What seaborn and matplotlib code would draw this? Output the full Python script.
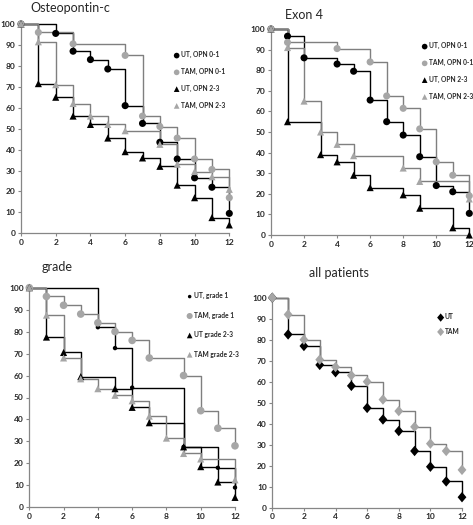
import matplotlib
matplotlib.use("Agg")
import matplotlib.pyplot as plt
import seaborn as sns

# ---- data (survival %) ----
# Osteopontin-c
opn_ut_low_t = [0, 2, 3, 4, 5, 6, 7, 8, 9, 10, 11, 12]
opn_ut_low_s = [100, 95.5, 87, 83, 78.5, 61, 52.5, 43.5, 35.5, 26.5, 22, 9.5]
opn_tam_low_t = [0, 1, 3, 6, 7, 8, 9, 10, 11, 12]
opn_tam_low_s = [100, 96, 90.5, 85, 56, 51, 45.5, 35.5, 30.5, 17]
opn_ut_high_t = [0, 1, 2, 3, 4, 5, 6, 7, 8, 9, 10, 11, 12]
opn_ut_high_s = [100, 71.5, 65, 56, 52, 45.5, 39, 36, 32, 23, 17, 7.5, 4]
opn_tam_high_t = [0, 1, 2, 3, 4, 5, 6, 8, 9, 10, 11, 12]
opn_tam_high_s = [100, 91.5, 71, 62, 56, 52, 49, 42.5, 33, 29.5, 27, 21]

# Exon 4
ex4_ut_low_t = [0, 1, 2, 4, 5, 6, 7, 8, 9, 10, 11, 12]
ex4_ut_low_s = [100, 96.5, 86, 83, 79.5, 65.5, 55, 48.5, 38, 24, 21, 10.5]
ex4_tam_low_t = [0, 1, 4, 6, 7, 8, 9, 10, 11, 12]
ex4_tam_low_s = [100, 93.5, 90.5, 84, 67.5, 61.5, 51.5, 35.5, 29, 19]
ex4_ut_high_t = [0, 1, 3, 4, 5, 6, 8, 9, 11, 12]
ex4_ut_high_s = [100, 55, 39, 35.5, 29, 23, 19.5, 13, 3.5, 0]
ex4_tam_high_t = [0, 1, 2, 3, 4, 5, 8, 9, 12]
ex4_tam_high_s = [100, 91, 65, 50, 44, 38.5, 32.5, 26, 17.5]

# grade
gr_ut_1_t = [0, 4, 5, 6, 9, 11, 12]
gr_ut_1_s = [100, 82, 72.5, 54.5, 27.5, 18, 9]
gr_tam_1_t = [0, 1, 2, 3, 4, 5, 6, 7, 9, 10, 11, 12]
gr_tam_1_s = [100, 96, 92, 88, 84, 80, 76, 68, 60, 44, 36, 28]
gr_ut_23_t = [0, 1, 2, 3, 5, 6, 7, 9, 10, 11, 12]
gr_ut_23_s = [100, 77.5, 70.5, 59.5, 54, 45.5, 38.5, 27.5, 18.5, 11.5, 4.5]
gr_tam_23_t = [0, 1, 2, 3, 4, 5, 6, 7, 8, 9, 10, 12]
gr_tam_23_s = [100, 87.5, 68, 58.5, 54, 51, 48.5, 41.5, 31.5, 24.5, 22, 12.5]

# all patients
all_t = [0, 1, 2, 3, 4, 5, 6, 7, 8, 9, 10, 11, 12]
all_ut_s = [100, 82.5, 77, 68, 64.5, 58, 47.5, 42, 36.5, 27, 19.5, 12.5, 5]
all_tam_s = [100, 92, 80, 70.5, 67, 63, 60, 51.5, 46, 38.5, 30.5, 27, 18]

BLACK = "#000000"
GRAY = "#a6a6a6"
LGRAY = "#7f7f7f"
DIAMOND = [(0, 1), (0.85, 0), (0, -1), (-0.85, 0), (0, 1)]

sns.set_theme(style="white")
plt.rcParams["font.family"] = ["Lato", "DejaVu Sans"]

W, H = 473, 525
fig = plt.figure(figsize=(W / 100, H / 100), dpi=100)


def px_axes(left, top, right, bottom):
    return fig.add_axes([left / W, 1 - bottom / H, (right - left) / W, (bottom - top) / H])


def draw_series(ax, t, s, marker, mcolor, lcolor, label, size):
    sns.lineplot(x=t, y=s, ax=ax, drawstyle="steps-post", color=lcolor, lw=1.0,
                 estimator=None, sort=False, legend=False, clip_on=False)
    sns.scatterplot(x=t, y=s, ax=ax, marker=marker, color=mcolor, s=size,
                    edgecolor="none", label=label, clip_on=False, zorder=5)


def style_axes(ax):
    ax.set_xlim(0, 12)
    ax.set_ylim(0, 100)
    ax.set_xticks(range(0, 13, 2))
    ax.set_yticks(range(0, 101, 10))
    for side in ["top", "right"]:
        ax.spines[side].set_visible(False)
    for side in ["left", "bottom"]:
        ax.spines[side].set_color("#868686")
        ax.spines[side].set_linewidth(0.9)
    ax.tick_params(axis="both", which="major", direction="out", length=2.5, width=0.8,
                   color="#868686", labelsize=6, pad=1.5, bottom=True, left=True)
    for lab in ax.get_xticklabels() + ax.get_yticklabels():
        lab.set_fontweight("bold")
    ax.set_xlabel("")
    ax.set_ylabel("")
    ax.patch.set_alpha(0)


def legend(ax, x, y, spacing):
    leg = ax.legend(loc="upper left", bbox_to_anchor=(x / W, 1 - y / H),
                    bbox_transform=fig.transFigure, frameon=False, fontsize=4.8,
                    handletextpad=0.1, labelspacing=spacing, borderpad=0,
                    handlelength=1.0, markerscale=0.8)
    for txt in leg.get_texts():
        txt.set_fontweight("bold")


def title(x, y, text):
    fig.text(x / W, 1 - y / H, text, fontsize=9, va="center", ha="left")


# Panel 1: Osteopontin-c
ax1 = px_axes(21, 24, 229.3, 233.3)
draw_series(ax1, opn_ut_low_t, opn_ut_low_s, "o", BLACK, BLACK, "UT, OPN 0-1", 26)
draw_series(ax1, opn_tam_low_t, opn_tam_low_s, "o", GRAY, LGRAY, "TAM, OPN 0-1", 26)
draw_series(ax1, opn_ut_high_t, opn_ut_high_s, "^", BLACK, BLACK, "UT, OPN 2-3", 26)
draw_series(ax1, opn_tam_high_t, opn_tam_high_s, "^", GRAY, LGRAY, "TAM, OPN 2-3", 26)
style_axes(ax1)
legend(ax1, 170, 48, 1.45)
title(30, 8, "Osteopontin-c")

# Panel 2: Exon 4
ax2 = px_axes(271, 29, 469.3, 235)
draw_series(ax2, ex4_ut_low_t, ex4_ut_low_s, "o", BLACK, BLACK, "UT, OPN 0-1", 26)
draw_series(ax2, ex4_tam_low_t, ex4_tam_low_s, "o", GRAY, LGRAY, "TAM, OPN 0-1", 26)
draw_series(ax2, ex4_ut_high_t, ex4_ut_high_s, "^", BLACK, BLACK, "UT, OPN 2-3", 26)
draw_series(ax2, ex4_tam_high_t, ex4_tam_high_s, "^", GRAY, LGRAY, "TAM, OPN 2-3", 26)
style_axes(ax2)
legend(ax2, 418, 39, 1.45)
title(285, 15, "Exon 4")

# Panel 3: grade
ax3 = px_axes(29.3, 287.7, 235, 507.3)
draw_series(ax3, gr_ut_1_t, gr_ut_1_s, "o", BLACK, BLACK, "UT, grade 1", 10)
draw_series(ax3, gr_tam_1_t, gr_tam_1_s, "o", GRAY, LGRAY, "TAM, grade 1", 30)
draw_series(ax3, gr_ut_23_t, gr_ut_23_s, "^", BLACK, BLACK, "UT grade 2-3", 26)
draw_series(ax3, gr_tam_23_t, gr_tam_23_s, "^", GRAY, LGRAY, "TAM grade 2-3", 26)
style_axes(ax3)
legend(ax3, 183, 289, 1.85)
title(42, 267, "grade")

# Panel 4: all patients
ax4 = px_axes(272.3, 297.7, 462, 507.7)
draw_series(ax4, all_t, all_ut_s, DIAMOND, BLACK, BLACK, "UT", 56)
draw_series(ax4, all_t, all_tam_s, DIAMOND, GRAY, LGRAY, "TAM", 56)
style_axes(ax4)
legend(ax4, 434, 310, 1.1)
title(309, 273, "all patients")

fig.savefig("out.png", dpi=100)
